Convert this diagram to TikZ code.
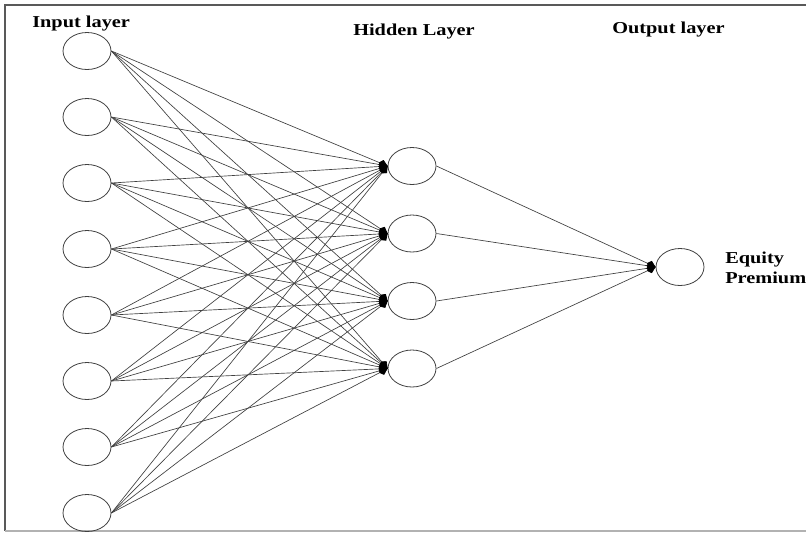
\documentclass[tikz,border=0pt]{standalone}
\usepackage{fontspec}
\setmainfont{Liberation Serif}
\newfontfamily\lblfont[FakeStretch=1.22]{Liberation Serif}
\usepackage{tikz}
\usetikzlibrary{arrows.meta,shapes.geometric}
\usepackage{xcolor}
\colorlet{mygray}{black!75}
\colorlet{myframe}{black!65}

\begin{document}
\begin{tikzpicture}[x=0.75pt, y=-0.75pt, >=latex]

% Styles
\tikzstyle{neuron} = [ellipse, draw=mygray, line width=0.6pt, minimum width=36pt, minimum height=27.75pt, inner sep=0pt]
\tikzstyle{connect} = [draw=mygray, line width=0.5pt, -{Kite[length=7pt,width=6pt,inset=2.5pt,color=black]}]
\tikzstyle{annot} = [font=\lblfont\fontsize{12.5}{14.5}\selectfont\bfseries, inner sep=0pt]

\useasboundingbox (0,0) rectangle (806,533);

% Cadre
\draw[myframe, line width=1.5pt] (806,5) -- (5,5) -- (5,531);
\draw[black!30, line width=1pt] (5,531) -- (806,531);

% Nombre de neurones
\def\nI{8}
\def\nH{4}

% Couche d'entree
\foreach \i in {1,...,\nI}
  \node[neuron] (I-\i) at (87, {51 + (\i-1)*66}) {};

% Couche cachee
\foreach \j in {1,...,\nH}
  \node[neuron] (H-\j) at (412, {166 + (\j-1)*67.5}) {};

% Couche de sortie
\node[neuron] (O) at (680, 267) {};

% Connexions I -> H
\foreach \i in {1,...,\nI}
  \foreach \j in {1,...,\nH}
    \draw[connect] (I-\i.east) -- (H-\j.west);

% Connexions H -> O
\foreach \j in {1,...,\nH}
  \draw[connect] (H-\j.east) -- (O.west);

% Annotations couches
\node[annot, anchor=base west] (lbl-in) at (32,27) {Input layer};
\node[annot, anchor=base west] (lbl-hid) at (353,35) {Hidden Layer};
\node[annot, anchor=base west] (lbl-out) at (612,33) {Output layer};
\node[annot, anchor=north west, align=left] (lbl-eq) at (725,252) {Equity\\Premium};

\end{tikzpicture}
\end{document}
